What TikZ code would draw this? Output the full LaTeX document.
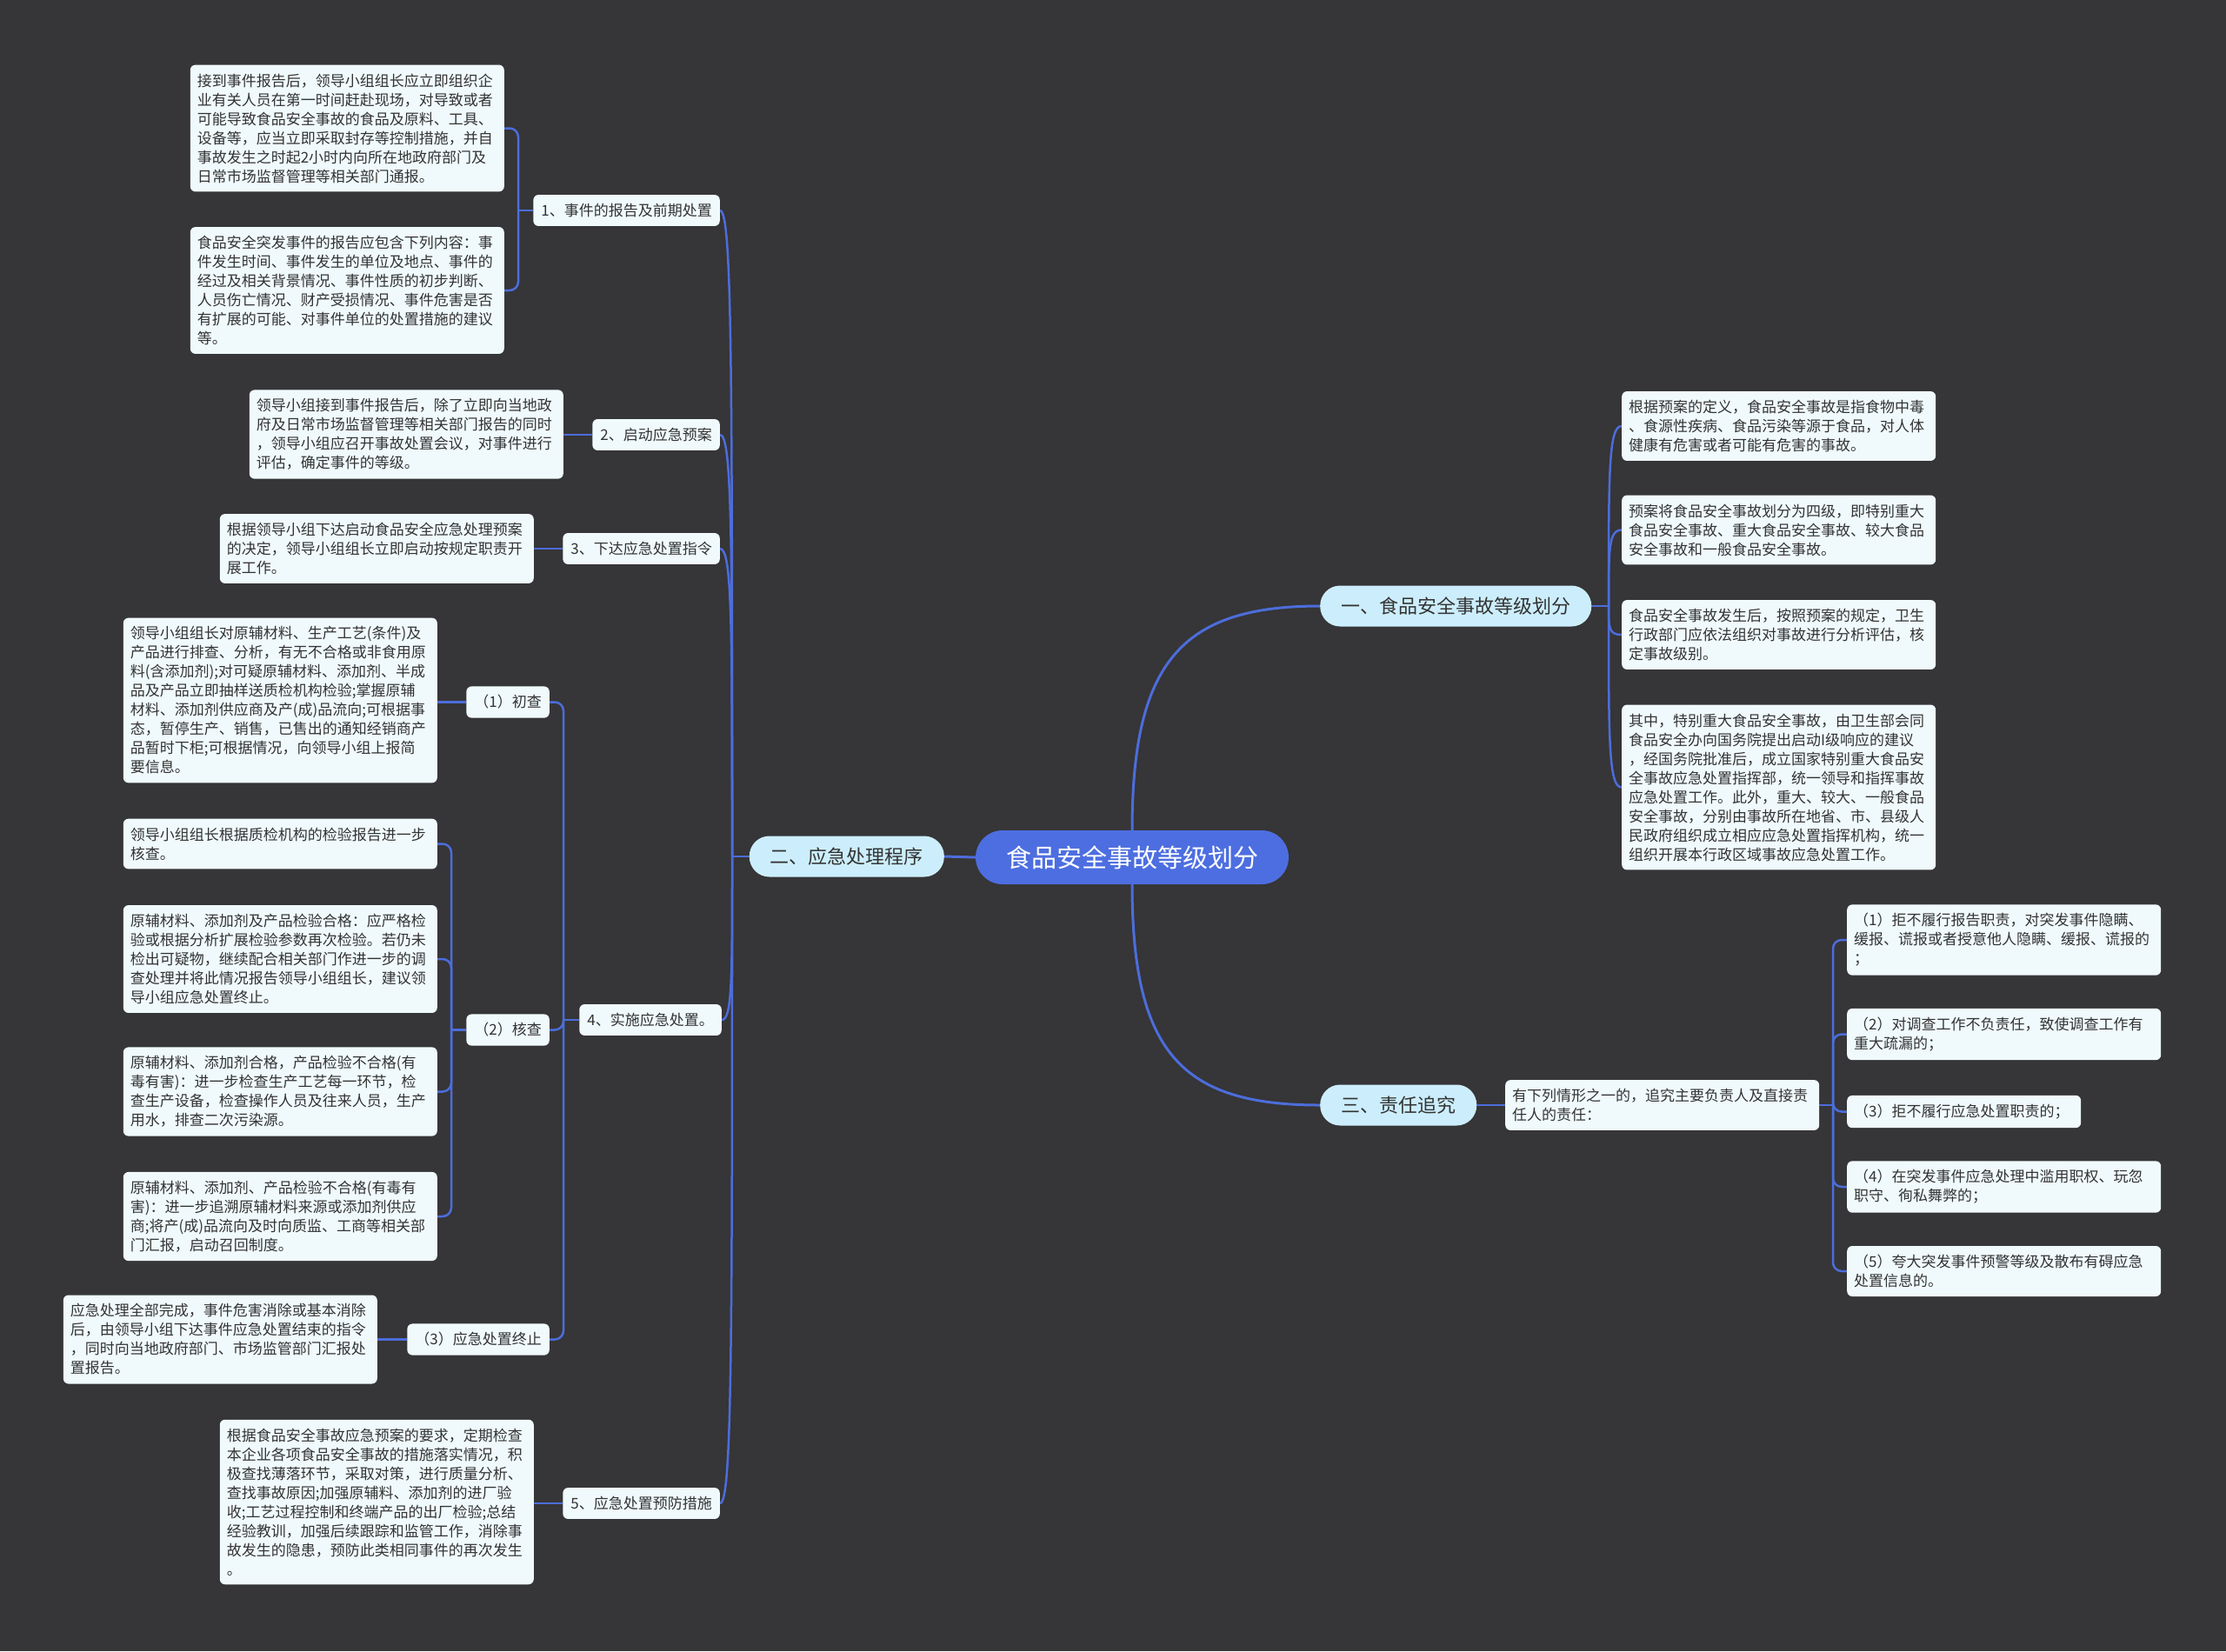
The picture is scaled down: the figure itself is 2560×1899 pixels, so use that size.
\documentclass[tikz,border=0pt]{standalone}
\usepackage{fontspec}
\newfontfamily\cjk{Noto Sans CJK SC}
\definecolor{bgc}{HTML}{363537}
\definecolor{linkc}{HTML}{4C6DDB}
\definecolor{rootc}{HTML}{4D6EE0}
\definecolor{brc}{HTML}{CCEEFC}
\definecolor{leafc}{HTML}{F0FAFD}
\definecolor{txtc}{HTML}{333333}
\pgfdeclarelayer{back}
\pgfdeclarelayer{edges}
\pgfsetlayers{back,edges,main}
\tikzset{
  leafbox/.style={fill=leafc, rounded corners=6pt, text=txtc, font=\cjk\fontsize{17}{22}\selectfont, align=left, text width=345pt, inner xsep=8pt, inner ysep=10pt},
  subbox/.style={fill=leafc, rounded corners=6pt, text=txtc, font=\cjk\fontsize{17}{22}\selectfont, inner xsep=9pt, inner ysep=10pt},
  brbox/.style={fill=brc, rounded corners=23pt, text=txtc, font=\cjk\fontsize{22}{26}\selectfont, inner xsep=24pt, minimum height=47pt},
  rootbox/.style={fill=rootc, rounded corners=31pt, text=white, font=\cjk\fontsize{29}{34}\selectfont, minimum width=360pt, minimum height=62pt},
  link/.style={draw=linkc, line width=2.5pt},
  elbow/.style={draw=linkc, line width=2.5pt, rounded corners=10pt}
}
\begin{document}
\begin{tikzpicture}[x=1pt,y=-1pt]
\begin{pgfonlayer}{back}
\fill[bgc] (0,0) rectangle (2560,1899);
\end{pgfonlayer}
\useasboundingbox (0,0) rectangle (2560,1899);

% root and main branches
\node[rootbox] (root) at (1302,986) {食品安全事故等级划分};
\node[brbox, anchor=east] (er) at (1086,985) {二、应急处理程序};
\node[brbox, anchor=west] (yi) at (1518,697) {一、食品安全事故等级划分};
\node[brbox, anchor=west] (san) at (1518,1271) {三、责任追究};

% right: 一
\node[leafbox, anchor=west] (y1) at (1865,490) {根据预案的定义，食品安全事故是指食物中毒\\、食源性疾病、食品污染等源于食品，对人体\\健康有危害或者可能有危害的事故。};
\node[leafbox, anchor=west] (y2) at (1865,609.5) {预案将食品安全事故划分为四级，即特别重大\\食品安全事故、重大食品安全事故、较大食品\\安全事故和一般食品安全事故。};
\node[leafbox, anchor=west] (y3) at (1865,730) {食品安全事故发生后，按照预案的规定，卫生\\行政部门应依法组织对事故进行分析评估，核\\定事故级别。};
\node[leafbox, anchor=west] (y4) at (1865,905.5) {其中，特别重大食品安全事故，由卫生部会同\\食品安全办向国务院提出启动I级响应的建议\\，经国务院批准后，成立国家特别重大食品安\\全事故应急处置指挥部，统一领导和指挥事故\\应急处置工作。此外，重大、较大、一般食品\\安全事故，分别由事故所在地省、市、县级人\\民政府组织成立相应应急处置指挥机构，统一\\组织开展本行政区域事故应急处置工作。};

% right: 三
\node[leafbox, anchor=west] (s0) at (1731,1271) {有下列情形之一的，追究主要负责人及直接责\\任人的责任：};
\node[leafbox, anchor=west] (s1) at (2124,1081) {（1）拒不履行报告职责，对突发事件隐瞒、\\缓报、谎报或者授意他人隐瞒、缓报、谎报的\\；};
\node[leafbox, anchor=west] (s2) at (2124,1189.5) {（2）对调查工作不负责任，致使调查工作有\\重大疏漏的；};
\node[leafbox, anchor=west, text width=253pt] (s3) at (2124,1278.5) {（3）拒不履行应急处置职责的；};
\node[leafbox, anchor=west] (s4) at (2124,1365) {（4）在突发事件应急处理中滥用职权、玩忽\\职守、徇私舞弊的；};
\node[leafbox, anchor=west] (s5) at (2124,1462) {（5）夸大突发事件预警等级及散布有碍应急\\处置信息的。};

% left: 二
\node[subbox, anchor=east] (e1) at (828,242) {1、事件的报告及前期处置};
\node[subbox, anchor=east] (e2) at (828,500) {2、启动应急预案};
\node[subbox, anchor=east] (e3) at (828,631) {3、下达应急处置指令};
\node[subbox, anchor=east] (e4) at (830,1173) {4、实施应急处置。};
\node[subbox, anchor=east] (e5) at (828,1729) {5、应急处置预防措施};

\node[leafbox, anchor=east] (e1a) at (580,147.5) {接到事件报告后，领导小组组长应立即组织企\\业有关人员在第一时间赶赴现场，对导致或者\\可能导致食品安全事故的食品及原料、工具、\\设备等，应当立即采取封存等控制措施，并自\\事故发生之时起2小时内向所在地政府部门及\\日常市场监督管理等相关部门通报。};
\node[leafbox, anchor=east] (e1b) at (580,334) {食品安全突发事件的报告应包含下列内容：事\\件发生时间、事件发生的单位及地点、事件的\\经过及相关背景情况、事件性质的初步判断、\\人员伤亡情况、财产受损情况、事件危害是否\\有扩展的可能、对事件单位的处置措施的建议\\等。};
\node[leafbox, anchor=east] (e2a) at (648,499.5) {领导小组接到事件报告后，除了立即向当地政\\府及日常市场监督管理等相关部门报告的同时\\，领导小组应召开事故处置会议，对事件进行\\评估，确定事件的等级。};
\node[leafbox, anchor=east] (e3a) at (614,631) {根据领导小组下达启动食品安全应急处理预案\\的决定，领导小组组长立即启动按规定职责开\\展工作。};

\node[subbox, anchor=east] (f1) at (632,807.5) {（1）初查};
\node[subbox, anchor=east] (f2) at (632,1184.5) {（2）核查};
\node[subbox, anchor=east] (f3) at (632,1540.5) {（3）应急处置终止};

\node[leafbox, anchor=east] (f1a) at (503,805.5) {领导小组组长对原辅材料、生产工艺(条件)及\\产品进行排查、分析，有无不合格或非食用原\\料(含添加剂);对可疑原辅材料、添加剂、半成\\品及产品立即抽样送质检机构检验;掌握原辅\\材料、添加剂供应商及产(成)品流向;可根据事\\态，暂停生产、销售，已售出的通知经销商产\\品暂时下柜;可根据情况，向领导小组上报简\\要信息。};
\node[leafbox, anchor=east] (f2a) at (503,970.5) {领导小组组长根据质检机构的检验报告进一步\\核查。};
\node[leafbox, anchor=east] (f2b) at (503,1103) {原辅材料、添加剂及产品检验合格：应严格检\\验或根据分析扩展检验参数再次检验。若仍未\\检出可疑物，继续配合相关部门作进一步的调\\查处理并将此情况报告领导小组组长，建议领\\导小组应急处置终止。};
\node[leafbox, anchor=east] (f2c) at (503,1255.5) {原辅材料、添加剂合格，产品检验不合格(有\\毒有害)：进一步检查生产工艺每一环节，检\\查生产设备，检查操作人员及往来人员，生产\\用水，排查二次污染源。};
\node[leafbox, anchor=east] (f2d) at (503,1399) {原辅材料、添加剂、产品检验不合格(有毒有\\害)：进一步追溯原辅材料来源或添加剂供应\\商;将产(成)品流向及时向质监、工商等相关部\\门汇报，启动召回制度。};
\node[leafbox, anchor=east] (f3a) at (434,1540.5) {应急处理全部完成，事件危害消除或基本消除\\后，由领导小组下达事件应急处置结束的指令\\，同时向当地政府部门、市场监管部门汇报处\\置报告。};
\node[leafbox, anchor=east] (e5a) at (614,1727.5) {根据食品安全事故应急预案的要求，定期检查\\本企业各项食品安全事故的措施落实情况，积\\极查找薄落环节，采取对策，进行质量分析、\\查找事故原因;加强原辅料、添加剂的进厂验\\收;工艺过程控制和终端产品的出厂检验;总结\\经验教训，加强后续跟踪和监管工作，消除事\\故发生的隐患，预防此类相同事件的再次发生\\。};

% connectors
\coordinate (tL) at (842,985);
\coordinate (tY) at (1850,697);
\coordinate (tS) at (2108,1271);
\coordinate (t1) at (596,242);
\coordinate (t4) at (648,1173);
\coordinate (tf2) at (519,1184.5);
\begin{pgfonlayer}{edges}
\draw[link, line width=3pt] (root.west) -- (er.east);
\draw[link, line width=3pt] (root.north) .. controls (1302,760) and (1360,697) .. (yi.west);
\draw[link, line width=3pt] (root.south) .. controls (1302,1212) and (1360,1271) .. (san.west);
\draw[link] (san.east) -- (s0.west);

% left trunk
\draw[link] (er.west) -- (tL);
\draw[link] (tL) .. controls (842,428) and (842,242) .. (e1.east);
\draw[link] (tL) .. controls (842,621) and (842,500) .. (e2.east);
\draw[link] (tL) .. controls (842,720) and (842,631) .. (e3.east);
\draw[link] (tL) .. controls (842,1126) and (842,1173) .. (e4.east);
\draw[link] (tL) .. controls (842,1543) and (842,1729) .. (e5.east);

% right trunk (一)
\draw[link] (yi.east) -- (tY);
\draw[link] (tY) .. controls (1850,542) and (1850,490) .. (y1.west);
\draw[link] (tY) .. controls (1850,631) and (1850,609.5) .. (y2.west);
\draw[link] (tY) .. controls (1850,722) and (1850,730) .. (y3.west);
\draw[link] (tY) .. controls (1850,853) and (1850,905.5) .. (y4.west);

% right (三) elbows
\draw[link] (s0.east) -- (tS);
\foreach \n in {s1,s2,s3,s4,s5} \draw[elbow] (tS) |- (\n.west);

% left elbows
\draw[link] (e1.west) -- (t1);
\draw[elbow] (t1) |- (e1a.east);
\draw[elbow] (t1) |- (e1b.east);
\draw[link] (e2.west) -- (e2.west -| e2a.east);
\draw[link] (e3.west) -- (e3.west -| e3a.east);
\draw[link] (e4.west) -- (t4);
\foreach \n in {f1,f2,f3} \draw[elbow] (t4) |- (\n.east);
\draw[link] (f1.west) -- (f1.west -| f1a.east);
\draw[link] (f2.west) -- (tf2);
\foreach \n in {f2a,f2b,f2c,f2d} \draw[elbow] (tf2) |- (\n.east);
\draw[link] (f3.west) -- (f3.west -| f3a.east);
\draw[link] (e5.west) -- (e5.west -| e5a.east);
\end{pgfonlayer}
\end{tikzpicture}
\end{document}
